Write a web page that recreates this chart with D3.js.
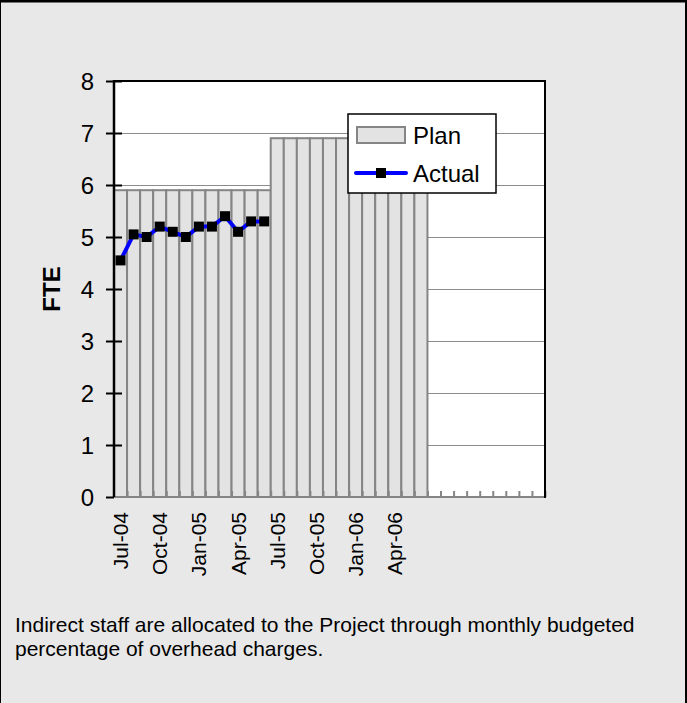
<!DOCTYPE html>
<html>
<head>
<meta charset="utf-8">
<script src="https://cdn.jsdelivr.net/npm/d3@7"></script>
<style>
  html, body { margin: 0; padding: 0; background: #e8e8e8; }
  svg { display: block; font-family: Arial, "Liberation Sans", sans-serif; }
</style>
</head>
<body>
<svg id="chart" width="687" height="703"></svg>
<script>
// ---- data ----
const categories = ["Jul-04","Aug-04","Sep-04","Oct-04","Nov-04","Dec-04","Jan-05","Feb-05","Mar-05","Apr-05","May-05","Jun-05",
                    "Jul-05","Aug-05","Sep-05","Oct-05","Nov-05","Dec-05","Jan-06","Feb-06","Mar-06","Apr-06","May-06","Jun-06",
                    "","","","","","","","",""];
const tickLabels = ["Jul-04","Oct-04","Jan-05","Apr-05","Jul-05","Oct-05","Jan-06","Apr-06"];
const planValues = [5.9,5.9,5.9,5.9,5.9,5.9,5.9,5.9,5.9,5.9,5.9,5.9,
                    6.9,6.9,6.9,6.9,6.9,6.9,6.9,6.9,6.9,6.9,6.9,6.9];
const actualValues = [4.55,5.05,5.0,5.2,5.1,5.0,5.2,5.2,5.4,5.1,5.3,5.3];
const yTicks = [0,1,2,3,4,5,6,7,8];
const seriesNames = ["Plan","Actual"];
const yTitle = "FTE";
const footnote = ["Indirect staff are allocated to the Project through monthly budgeted",
                  "percentage of overhead charges."];

// ---- layout ----
const W = 687, H = 703;
const L = 114, R = 545, T = 81, B = 497;
const svg = d3.select("#chart");

// background & frame
svg.append("rect").attr("x",0).attr("y",0).attr("width",W).attr("height",H).attr("fill","#e8e8e8");
svg.append("line").attr("x1",0).attr("x2",W).attr("y1",1).attr("y2",1).attr("stroke","#000").attr("stroke-width",3);
svg.append("line").attr("x1",0.5).attr("x2",0.5).attr("y1",0).attr("y2",H).attr("stroke","#000").attr("stroke-width",1);
svg.append("line").attr("x1",686).attr("x2",686).attr("y1",0).attr("y2",H).attr("stroke","#000").attr("stroke-width",2);

const idx = categories.map((c,i)=>i);
const x = d3.scaleBand().domain(idx).range([L, R]).padding(0);
const xb = d3.scaleLinear().domain([0, categories.length]).range([L, R]);
const y = d3.scaleLinear().domain([0, 8]).range([B, T]);

// plot area
svg.append("rect").attr("x",L).attr("y",T).attr("width",R-L).attr("height",B-T).attr("fill","#fff");

// gridlines
svg.append("g").selectAll("line").data(yTicks.filter(v=>v>0 && v<8)).join("line")
  .attr("x1",L).attr("x2",R).attr("y1",d=>Math.round(y(d))+0.5).attr("y2",d=>Math.round(y(d))+0.5)
  .attr("stroke","#8c8c8c").attr("stroke-width",1);

// bars
svg.append("g").selectAll("rect").data(planValues).join("rect")
  .attr("x",(d,i)=>x(i)).attr("width",x.bandwidth())
  .attr("y",d=>y(d)).attr("height",d=>y(0)-y(d))
  .attr("fill","#e3e3e3").attr("stroke","#858585").attr("stroke-width",2);

// x axis minor ticks (category boundaries) and axis line
const xMinor = svg.append("g").attr("transform",`translate(0,${B})`)
  .call(d3.axisBottom(xb).tickValues(d3.range(1, categories.length+1)).tickSize(-6).tickFormat(""));
xMinor.select(".domain").remove();
xMinor.selectAll(".tick line").attr("stroke","#858585").attr("stroke-width",2);
svg.append("line").attr("x1",L).attr("x2",R).attr("y1",B).attr("y2",B).attr("stroke","#858585").attr("stroke-width",2);

// x labels
const labelIdx = idx.filter(i => tickLabels.includes(categories[i]));
const xAx = svg.append("g").attr("transform",`translate(0,${B})`)
  .call(d3.axisBottom(x).tickValues(labelIdx).tickSize(0).tickFormat(i=>categories[i]));
xAx.select(".domain").remove();
xAx.selectAll("text")
  .attr("font-size","21px").attr("font-family","Arial, 'Liberation Sans', sans-serif").attr("fill","#000")
  .attr("text-anchor","end").attr("transform","rotate(-90)")
  .attr("x",-15).attr("y",0).attr("dy","0.36em");

// plot border top/right
svg.append("line").attr("x1",L).attr("x2",R+1).attr("y1",T).attr("y2",T).attr("stroke","#000").attr("stroke-width",2);
svg.append("line").attr("x1",R).attr("x2",R).attr("y1",T).attr("y2",B+1).attr("stroke","#000").attr("stroke-width",2);

// y axis
const yAx = svg.append("g").attr("transform",`translate(${L},0)`)
  .call(d3.axisLeft(y).tickValues(yTicks).tickSize(8).tickPadding(12).tickFormat(d3.format("d")));
yAx.select(".domain").attr("stroke","#000").attr("stroke-width",2.5).attr("d",`M0,${T-1}V${B}`);
yAx.selectAll(".tick line").attr("x1",d=>d===0?0:8).attr("x2",-8).attr("stroke","#000").attr("stroke-width",2);
yAx.selectAll("text").attr("font-size","24px").attr("font-family","Arial, 'Liberation Sans', sans-serif")
  .attr("fill","#000").attr("x",-20).attr("dy","0.35em");

// actual line
const line = d3.line().x((d,i)=>x(i)+x.bandwidth()/2).y(d=>y(d));
svg.append("path").datum(actualValues).attr("d",line)
  .attr("fill","none").attr("stroke","#0000ff").attr("stroke-width",4).attr("stroke-linejoin","round");
const ms = 10;
svg.append("g").selectAll("rect").data(actualValues).join("rect")
  .attr("x",(d,i)=>x(i)+x.bandwidth()/2-ms/2).attr("y",d=>y(d)-ms/2)
  .attr("width",ms).attr("height",ms).attr("fill","#000");

// legend
const lg = svg.append("g");
lg.append("rect").attr("x",348).attr("y",114).attr("width",148).attr("height",79)
  .attr("fill","#fff").attr("stroke","#000").attr("stroke-width",1.5);
lg.append("rect").attr("x",357).attr("y",127).attr("width",48).attr("height",16)
  .attr("fill","#e3e3e3").attr("stroke","#858585").attr("stroke-width",2);
lg.append("text").attr("x",413).attr("y",144).attr("font-size","24px").text(seriesNames[0]);
lg.append("line").attr("x1",356).attr("x2",406).attr("y1",173).attr("y2",173)
  .attr("stroke","#0000ff").attr("stroke-width",4).attr("stroke-linecap","round");
lg.append("rect").attr("x",381-ms/2).attr("y",173-ms/2).attr("width",ms).attr("height",ms).attr("fill","#000");
lg.append("text").attr("x",413).attr("y",182).attr("font-size","24px").text(seriesNames[1]);

// y title
svg.append("text").attr("transform",`translate(52,${(T+B)/2}) rotate(-90)`)
  .attr("text-anchor","middle").attr("dy","0.35em")
  .attr("font-size","24px").attr("font-weight","bold").text(yTitle);

// footnote
svg.append("g").selectAll("text").data(footnote).join("text")
  .attr("x",15).attr("y",(d,i)=>632 + i*24).attr("font-size","21px").text(d=>d);
</script>
</body>
</html>
